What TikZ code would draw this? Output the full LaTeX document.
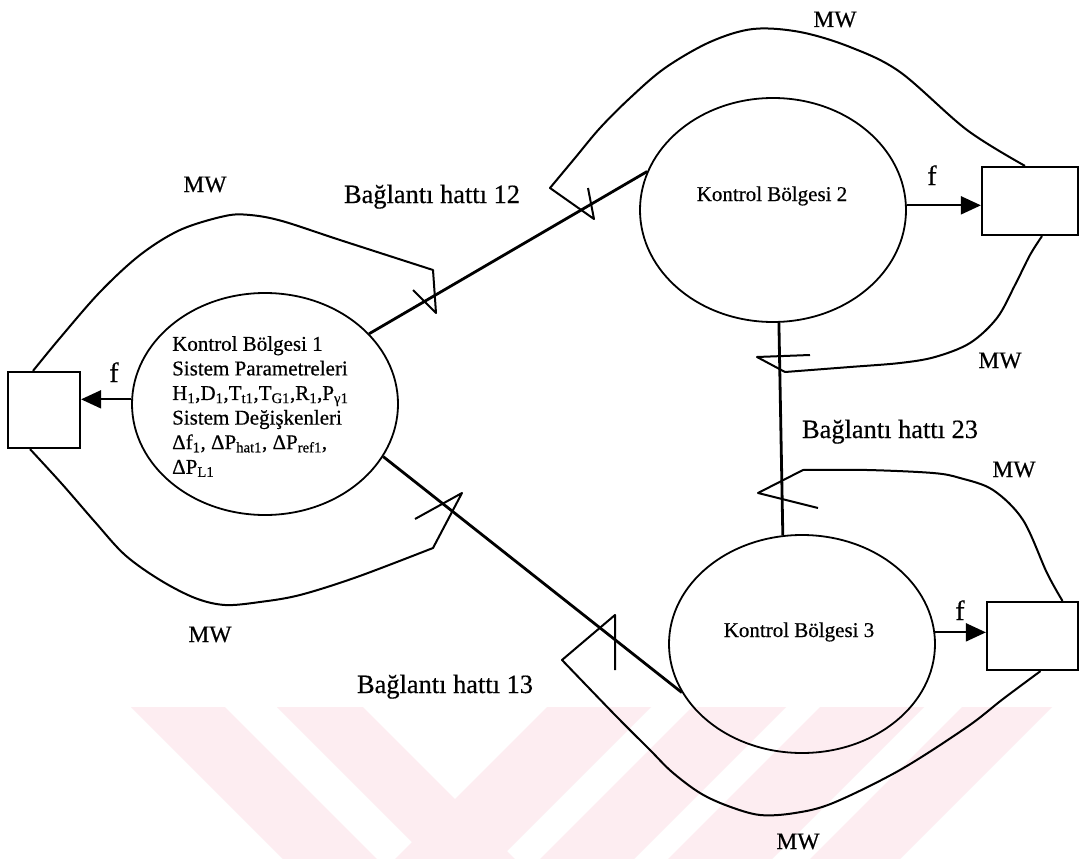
\documentclass[tikz,border=0pt]{standalone}
\usepackage{fontspec}
\setmainfont{Liberation Serif}
\newfontfamily\inkfont{Liberation Serif}[FakeBold=0.5]
\usetikzlibrary{shapes.geometric,arrows.meta}

\definecolor{wmpink}{RGB}{253,237,241}

\begin{document}
\begin{tikzpicture}[x=1pt,y=-1pt,
  areanode/.style={draw, ellipse, line width=1.8pt, inner sep=0pt},
  unitbox/.style={draw, rectangle, line width=2.2pt, inner sep=0pt},
  tieline/.style={line width=2.8pt},
  mwcurve/.style={line width=2pt, line join=round},
  fline/.style={line width=2pt, -{Triangle[length=20pt,width=18pt]}},
  lbltext/.style={inner sep=0pt, anchor=base},
  mwlbl/.style={lbltext, font=\inkfont\fontsize{23.5}{28}\selectfont},
  tielbl/.style={lbltext, font=\inkfont\fontsize{26.4}{30}\selectfont},
  flbl/.style={lbltext, font=\inkfont\fontsize{28}{32}\selectfont},
  areatext/.style={inner sep=0pt, font=\inkfont\fontsize{21}{24.6}\selectfont},
  stripe/.style={fill=wmpink, draw=none},
]
% page
\fill[white] (0,0) rectangle (1080,859);
\useasboundingbox (0,0) rectangle (1080,859);

% faint striped emblem along the bottom edge
\path[stripe] (131,707) -- (225,707) -- (377,859) -- (283,859) -- cycle;
\path[stripe] (277,707) -- (363,707) -- (515,859) -- (429,859) -- cycle;
\path[stripe] (547,707) -- (651,707) -- (499,859) -- (395,859) -- cycle;
\path[stripe] (692,707) -- (786,707) -- (634,859) -- (540,859) -- cycle;
\path[stripe] (820,707) -- (924,707) -- (772,859) -- (668,859) -- cycle;
\path[stripe] (962,707) -- (1052,707) -- (900,859) -- (810,859) -- cycle;

% control areas
\node[areanode, minimum width=266pt, minimum height=222pt] (e1) at (265,404) {};
\node[areanode, minimum width=266pt, minimum height=224pt] (e2) at (773,210) {};
\node[areanode, minimum width=266pt, minimum height=218pt] (e3) at (802,644) {};

% measuring units
\node[unitbox, minimum width=72pt, minimum height=76pt] (b1) at (44,410) {};
\node[unitbox, minimum width=96pt, minimum height=68pt] (b2) at (1030,201) {};
\node[unitbox, minimum width=91pt, minimum height=68pt] (b3) at (1032.5,636) {};

% texts inside the areas
\node[areatext, anchor=north west, align=left] (t1) at (172,336)
  {Kontrol Bölgesi 1\\
   Sistem Parametreleri\\
   H\textsubscript{1},D\textsubscript{1},T\textsubscript{t1},T\textsubscript{G1},R\textsubscript{1},P\textsubscript{γ1}\\
   Sistem Değişkenleri\\
   Δf\textsubscript{1}, ΔP\textsubscript{hat1}, ΔP\textsubscript{ref1},\\
   ΔP\textsubscript{L1}};
\node[areatext, anchor=base] (t2) at (772,201) {Kontrol Bölgesi 2};
\node[areatext, anchor=base] (t3) at (799,637) {Kontrol Bölgesi 3};

% tie lines
\draw[tieline] (e1.34) -- (e2.163.5);
\draw[tieline] (e1.-24) -- (e3.202.4);
\draw[tieline] (e2.-87.4) -- (e3.100.4);

% frequency signals
\draw[fline] (e1.178) -- (e1.178 -| b1.east);
\draw[fline] (e2.2) -- (e2.2 -| b2.west);
\draw[fline] (e3.5) -- (e3.5 -| b3.west);

% curve end points on the units
\coordinate (c1s) at ([xshift=-11pt]b1.north);
\coordinate (c2s) at ([xshift=-5pt]b2.north);
\coordinate (c3s) at ([xshift=12pt]b2.south);
\coordinate (c4s) at ([xshift=30pt]b3.north);
\coordinate (c5s) at ([xshift=8pt]b3.south);
\coordinate (c6s) at ([xshift=-14pt]b1.south);

% power flow curves with their line markers
\draw[mwcurve] plot[smooth, tension=0.55] coordinates
  {(c1s) (60,338) (100,292) (140,255) (180,230) (225,216) (250,215) (282,221) (340,240) (433,270)}
  -- (436,313) -- (413,290);
\draw[mwcurve] plot[smooth, tension=0.55] coordinates
  {(c2s) (967,130) (900,72) (850,47) (800,32) (753,29) (710,42) (665,68) (630,98) (600,128) (575,158) (550,188)}
  -- (594,219) -- (588,188);
\draw[mwcurve] plot[smooth, tension=0.55] coordinates
  {(c3s) (1030,255) (1015,285) (997,318) (970,343) (935,357) (900,363) (850,367) (785,372)}
  -- (757,357) -- (810,355);
\draw[mwcurve] plot[smooth, tension=0.55] coordinates
  {(c4s) (1047,573) (1023,520) (993,490) (960,478) (933,473) (867,470) (803,470)}
  -- (758,493) -- (818,508);
\draw[mwcurve] plot[smooth, tension=0.55] coordinates
  {(c5s) (1003,699) (967,727) (900,770) (833,803) (795,813) (760,815) (728,806) (700,793) (672,772) (650,750) (616,716) (562,660)}
  -- (615,615) -- (615,670);
\draw[mwcurve] plot[smooth, tension=0.55] coordinates
  {(c6s) (62,484) (95,522) (125,555) (160,580) (195,598) (225,605) (260,602) (300,595) (357,577) (433,548)}
  -- (462,493) -- (415,519);

% labels
\node[mwlbl] (mw1) at (835,27) {MW};
\node[mwlbl] (mw2) at (205,192) {MW};
\node[mwlbl] (mw3) at (1000,368) {MW};
\node[mwlbl] (mw4) at (1014,477) {MW};
\node[mwlbl] (mw5) at (210,642) {MW};
\node[mwlbl] (mw6) at (798,849) {MW};

\node[tielbl] (h12) at (432,203) {Bağlantı hattı 12};
\node[tielbl] (h23) at (890,438) {Bağlantı hattı 23};
\node[tielbl] (h13) at (445,693) {Bağlantı hattı 13};

\node[flbl] (f1) at (114,382) {f};
\node[flbl] (f2) at (932,185) {f};
\node[flbl] (f3) at (960,620) {f};
\end{tikzpicture}
\end{document}
